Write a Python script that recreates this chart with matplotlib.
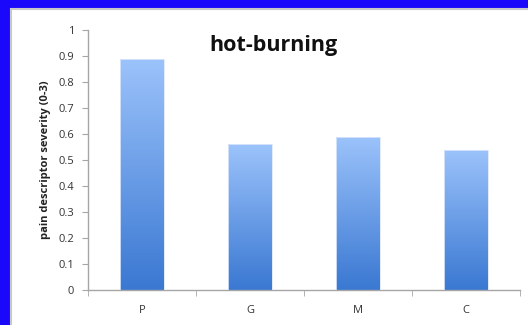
import numpy as np
import matplotlib
matplotlib.use("Agg")
import matplotlib.pyplot as plt
from matplotlib.patches import Rectangle
from matplotlib.colors import LinearSegmentedColormap

categories = ["P", "G", "M", "C"]
severity = [0.89, 0.56, 0.59, 0.54]
y_ticks = [0, 0.1, 0.2, 0.3, 0.4, 0.5, 0.6, 0.7, 0.8, 0.9, 1]
y_tick_labels = ["0", "0.1", "0.2", "0.3", "0.4", "0.5", "0.6", "0.7", "0.8", "0.9", "1"]

plt.rcParams["font.family"] = ["Open Sans", "DejaVu Sans"]

fig = plt.figure(figsize=(5.28, 3.25), dpi=100)
fig.patch.set_facecolor("#1a08fb")

# white slide panel with a soft grey edge, kept behind the axes
fig.patches.append(Rectangle((11 / 528, -0.01), 1.0, 1 - 9 / 325 + 0.01,
                             transform=fig.transFigure, facecolor="white",
                             edgecolor="#c8c8c8", linewidth=1.5, zorder=-5))

ax = fig.add_axes([88 / 528, 1 - 290 / 325, (520 - 88) / 528, 260 / 325])
ax.set_facecolor("none")
ax.set_zorder(1)

x = np.arange(len(categories))
bars = ax.bar(x, severity, width=0.4, color="none", edgecolor="#dce8fb", linewidth=0.6, zorder=3)

# vertical gradient fill for each bar
cmap = LinearSegmentedColormap.from_list("barfill", ["#3a78d2", "#9cc3fb"])
grad = np.linspace(0, 1, 256).reshape(-1, 1)
for b in bars:
    x0, y0 = b.get_x(), b.get_y()
    w, h = b.get_width(), b.get_height()
    im = ax.imshow(grad, cmap=cmap, origin="lower", aspect="auto",
                   extent=(x0, x0 + w, y0, y0 + h), zorder=2)
    im.set_clip_path(b)

ax.set_xlim(-0.5, len(categories) - 0.5)
ax.set_ylim(0, 1)

ax.set_yticks(y_ticks)
ax.set_yticklabels(y_tick_labels)
ax.set_xticks(x)
ax.set_xticklabels(categories)
ax.set_xticks(np.arange(len(categories) + 1) - 0.5, minor=True)

for side in ["top", "right"]:
    ax.spines[side].set_visible(False)
for side in ["left", "bottom"]:
    ax.spines[side].set_color("#a6a6a6")
    ax.spines[side].set_linewidth(1.0)

ax.tick_params(axis="y", direction="out", length=4, color="#a6a6a6",
               labelsize=8, labelcolor="#333333", pad=6)
ax.tick_params(axis="x", which="major", length=0, labelsize=8,
               labelcolor="#333333", pad=11)
ax.tick_params(axis="x", which="minor", direction="out", length=4, color="#a6a6a6")

ax.set_ylabel("pain descriptor severity (0-3)", fontsize=8, fontweight="bold",
              color="#222222", labelpad=5)

ax.text(1.22, 0.94, "hot-burning", fontsize=15.5, fontweight="bold",
        color="#111111", ha="center", va="center")

fig.savefig("out.png", dpi=100)
